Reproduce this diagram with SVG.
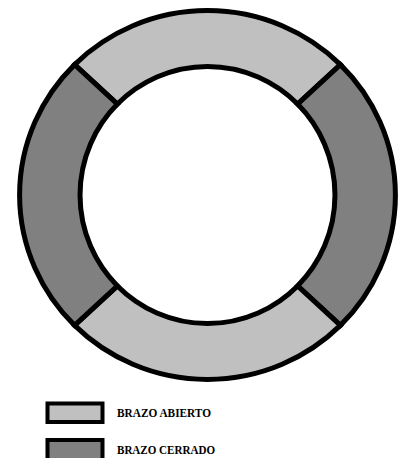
<svg xmlns="http://www.w3.org/2000/svg" width="407" height="458" viewBox="0 0 407 458">
<style>
.seg{stroke:#000;stroke-width:5;stroke-linejoin:miter}
.open{fill:#c0c0c0}
.closed{fill:#808080}
.key{stroke:#000;stroke-width:4}
.lbl{font-family:"Liberation Serif","Times New Roman",serif;font-weight:bold;font-size:12.5px;fill:#000}
</style>
<rect width="407" height="458" fill="#fff"/>
<g id="arm-top"><path class="seg open" d="M74.6 64.6 A188 184.5 0 0 1 340.4 64.6 L297.6 104.1 A127.5 128.5 0 0 0 117.4 104.1 Z"/></g>
<g id="arm-right"><path class="seg closed" d="M340.4 64.6 A188 184.5 0 0 1 340.4 325.4 L297.6 285.9 A127.5 128.5 0 0 0 297.6 104.1 Z"/></g>
<g id="arm-bottom"><path class="seg open" d="M340.4 325.4 A188 184.5 0 0 1 74.6 325.4 L117.4 285.9 A127.5 128.5 0 0 0 297.6 285.9 Z"/></g>
<g id="arm-left"><path class="seg closed" d="M74.6 325.4 A188 184.5 0 0 1 74.6 64.6 L117.4 104.1 A127.5 128.5 0 0 0 117.4 285.9 Z"/></g>
<g id="legend-open">
<rect class="key open" x="47.5" y="403.5" width="55" height="18.5"/>
<text class="lbl" x="117" y="416.7" textLength="94" lengthAdjust="spacingAndGlyphs">BRAZO ABIERTO</text>
</g>
<g id="legend-closed">
<rect class="key closed" x="47.5" y="440" width="55" height="20"/>
<text class="lbl" x="117" y="454" textLength="98" lengthAdjust="spacingAndGlyphs">BRAZO CERRADO</text>
</g>
</svg>
